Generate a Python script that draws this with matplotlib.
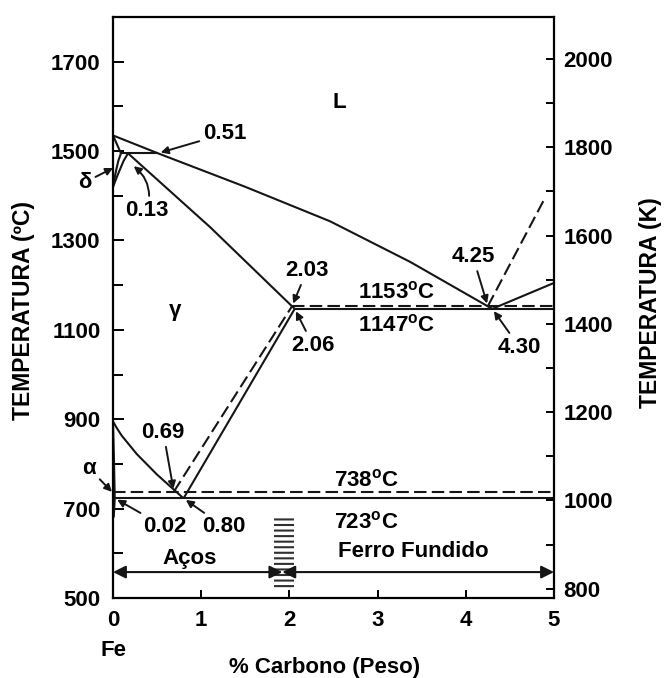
import matplotlib
matplotlib.use("Agg")
import matplotlib.pyplot as plt
from matplotlib.patches import Rectangle

plt.rcParams['font.family'] = ['Liberation Sans', 'DejaVu Sans']
plt.rcParams['font.weight'] = 'bold'
plt.rcParams['mathtext.fontset'] = 'custom'
plt.rcParams['mathtext.rm'] = 'Liberation Sans:bold'
plt.rcParams['hatch.linewidth'] = 1.5

# ---------------- data (% C, °C) ----------------
liquidus_x = [0, 0.51, 1.5, 2.46, 3.37, 4.30]
liquidus_y = [1535, 1495, 1420, 1343, 1252, 1147]
liq_fe3c_x = [4.30, 5.0]
liq_fe3c_y = [1147, 1205]
liq_graph_x = [4.25, 4.90]
liq_graph_y = [1153, 1396]
delta_sol_x = [0, 0.09]
delta_sol_y = [1535, 1495]
peritectic_x = [0.09, 0.51]
peritectic_y = [1495, 1495]
delta_gam_x = [0, 0.03, 0.06, 0.09]
delta_gam_y = [1420, 1452, 1478, 1495]
gam_delta_x = [0, 0.06, 0.12, 0.17]
gam_delta_y = [1420, 1450, 1478, 1495]
gam_sol_x = [0.17, 1.1, 2.06]
gam_sol_y = [1495, 1330, 1147]
acm_x = [0.80, 2.06]
acm_y = [723, 1147]
acm_graph_x = [0.69, 2.03]
acm_graph_y = [738, 1153]
a3_x = [0, 0.05, 0.1, 0.27, 0.50, 0.80]
a3_y = [895, 878, 863, 822, 776, 723]
alpha_x = [0, 0.012, 0.02, 0.008]
alpha_y = [895, 800, 723, 680]
eutectoid_x = [0.02, 5]
eutectoid_y = [723, 723]
eutectoid_g_x = [0, 5]
eutectoid_g_y = [738, 738]
eutectic_x = [2.06, 5]
eutectic_y = [1147, 1147]
eutectic_g_x = [2.03, 5]
eutectic_g_y = [1153, 1153]

# ranges
steel_range = [0, 1.92]
cast_range = [1.92, 5]
range_temp = 558
hatch_x = [1.83, 2.05]
hatch_y = [522, 679]

yticks_c = [500, 700, 900, 1100, 1300, 1500, 1700]
yticks_c_minor = [600, 800, 1000, 1200, 1400, 1600]
yticks_k = [800, 1000, 1200, 1400, 1600, 1800, 2000]
yticks_k_minor = [900, 1100, 1300, 1500, 1700, 1900]
xticks = [0, 1, 2, 3, 4, 5]

W, H = 664, 678
fig = plt.figure(figsize=(W / 100, H / 100), dpi=100)
ax = fig.add_axes([113 / W, 1 - 598 / H, (554 - 113) / W, (598 - 17) / H])
ax.set_xlim(0, 5)
ax.set_ylim(500, 1800)

LC = '#151515'
solid = dict(color=LC, lw=1.5, solid_capstyle='butt')
dashed = dict(color=LC, lw=1.5, linestyle=(0, (6, 2.5)))

for xs, ys in [(liquidus_x, liquidus_y), (liq_fe3c_x, liq_fe3c_y), (delta_sol_x, delta_sol_y),
               (peritectic_x, peritectic_y), (delta_gam_x, delta_gam_y), (gam_delta_x, gam_delta_y),
               (gam_sol_x, gam_sol_y), (acm_x, acm_y), (a3_x, a3_y), (alpha_x, alpha_y),
               (eutectoid_x, eutectoid_y), (eutectic_x, eutectic_y)]:
    ax.plot(xs, ys, **solid)
for xs, ys in [(liq_graph_x, liq_graph_y), (acm_graph_x, acm_graph_y),
               (eutectoid_g_x, eutectoid_g_y), (eutectic_g_x, eutectic_g_y)]:
    ax.plot(xs, ys, **dashed)

# hatched marker at ~2 %C
ax.add_patch(Rectangle((hatch_x[0], hatch_y[0]), hatch_x[1] - hatch_x[0], hatch_y[1] - hatch_y[0],
                       facecolor='white', edgecolor='#303030', hatch='---', lw=0, zorder=1))

# range arrows
arr = dict(arrowstyle='<|-|>', color=LC, lw=1.5, mutation_scale=19, shrinkA=0, shrinkB=0)
ax.annotate('', xy=(steel_range[0], range_temp), xytext=(steel_range[1], range_temp),
            arrowprops=arr, zorder=3)
ax.annotate('', xy=(cast_range[0], range_temp), xytext=(cast_range[1], range_temp),
            arrowprops=arr, zorder=3)

FS = 16
ptr = dict(arrowstyle='-|>', color=LC, lw=1.4, mutation_scale=11, shrinkA=1, shrinkB=2)


def label(txt, xy, xyt, **kw):
    pp = dict(ptr)
    pp.update(kw.pop('ap', {}))
    ax.annotate(txt, xy=xy, xytext=xyt, ha='center', va='center', fontsize=FS,
                arrowprops=pp, annotation_clip=False, **kw)


label('0.51', (liquidus_x[1], liquidus_y[1]), (1.27, 1539))
label('0.13', (gam_sol_x[0] + 0.04, gam_sol_y[0] - 25), (0.385, 1367),
      ap=dict(connectionstyle='arc3,rad=0.35'))
label('2.03', (acm_graph_x[1], acm_graph_y[1]), (2.20, 1233))
label('2.06', (acm_x[1], acm_y[1]), (2.27, 1065))
label('4.25', (liq_graph_x[0], liq_graph_y[0]), (4.08, 1264))
label('4.30', (liq_fe3c_x[0], liq_fe3c_y[0]), (4.61, 1061))
label('0.69', (acm_graph_x[0], acm_graph_y[0]), (0.57, 871))
label('0.02', (alpha_x[2], alpha_y[2]), (0.59, 659))
label('0.80', (acm_x[0], acm_y[0]), (1.26, 659))
label('δ', (0.03, 1465), (-0.32, 1430))
label('α', (0.01, 733), (-0.27, 790))

txt = dict(ha='center', va='center', fontsize=FS)
ax.text(2.57, 1608, 'L', **txt)
ax.text(0.70, 1144, 'γ', **txt)
ax.text(3.22, 1184, r'1153$^{\mathregular{o}}$C', **txt)
ax.text(3.22, 1110, r'1147$^{\mathregular{o}}$C', **txt)
ax.text(2.87, 764, r'738$^{\mathregular{o}}$C', **txt)
ax.text(2.87, 670, r'723$^{\mathregular{o}}$C', **txt)
ax.text(0.87, 589, 'Aços', **txt)
ax.text(3.41, 603, 'Ferro Fundido', **txt)

# axes styling
for s in ax.spines.values():
    s.set_linewidth(1.6)
    s.set_color('black')
ax.set_xticks(xticks)
ax.set_yticks(yticks_c)
ax.set_yticks(yticks_c_minor, minor=True)
ax.tick_params(axis='both', which='both', direction='in', labelsize=FS, width=1.4,
               right=False, top=False)
ax.tick_params(axis='y', which='major', length=8, pad=9)
ax.tick_params(axis='y', which='minor', length=7)
ax.tick_params(axis='x', which='major', length=6, pad=9)

ax2 = ax.twinx()
ax2.set_ylim(779, 2095)
ax2.set_yticks(yticks_k)
ax2.set_yticks(yticks_k_minor, minor=True)
ax2.tick_params(axis='y', which='both', direction='in', labelsize=FS, width=1.4, pad=7)
ax2.tick_params(axis='y', which='major', length=6)
ax2.tick_params(axis='y', which='minor', length=6)
for s in ax2.spines.values():
    s.set_visible(False)

fig.text(24 / W, 1 - 310 / H, 'TEMPERATURA (ºC)', rotation=90, ha='center', va='center', fontsize=16.5)
fig.text(651 / W, 1 - 303 / H, 'TEMPERATURA (K)', rotation=90, ha='center', va='center', fontsize=16.5)
fig.text(325 / W, 1 - 667 / H, '% Carbono (Peso)', ha='center', va='center', fontsize=FS)
fig.text(113 / W, 1 - 651 / H, 'Fe', ha='center', va='center', fontsize=FS)

fig.savefig('out.png', dpi=100, facecolor='white')
